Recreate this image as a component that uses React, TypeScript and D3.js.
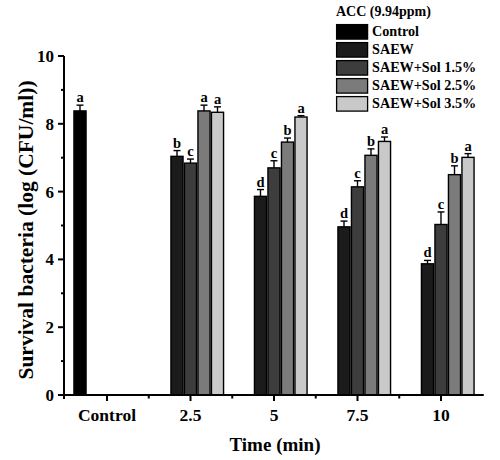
import React from 'react';
import * as d3 from 'd3';

const categories = ['Control', '2.5', '5', '7.5', '10'];
const seriesNames = ['Control', 'SAEW', 'SAEW+Sol 1.5%', 'SAEW+Sol 2.5%', 'SAEW+Sol 3.5%'];
const seriesColors = ['#000000', '#1b1b1b', '#3d3d3d', '#7b7b7b', '#c9c9c9'];

const controlValues = [8.38, null, null, null, null];
const saewValues = [null, 7.04, 5.86, 4.96, 3.87];
const sol15Values = [null, 6.84, 6.70, 6.14, 5.03];
const sol25Values = [null, 8.38, 7.46, 7.07, 6.50];
const sol35Values = [null, 8.34, 8.20, 7.48, 7.01];

const controlErrors = [0.17, null, null, null, null];
const saewErrors = [null, 0.17, 0.2, 0.17, 0.1];
const sol15Errors = [null, 0.12, 0.21, 0.18, 0.37];
const sol25Errors = [null, 0.17, 0.12, 0.19, 0.26];
const sol35Errors = [null, 0.16, 0.04, 0.13, 0.11];

const controlLetters = ['a', null, null, null, null];
const saewLetters = [null, 'b', 'd', 'd', 'd'];
const sol15Letters = [null, 'c', 'c', 'c', 'c'];
const sol25Letters = [null, 'a', 'b', 'b', 'b'];
const sol35Letters = [null, 'a', 'a', 'a', 'a'];

const yMajorTicks = [0, 2, 4, 6, 8, 10];
const yMinorTicks = [1, 3, 5, 7, 9];

const legendTitle = 'ACC (9.94ppm)';
const xTitle = 'Time (min)';
const yTitle = 'Survival bacteria (log (CFU/ml))';

const values = [controlValues, saewValues, sol15Values, sol25Values, sol35Values];
const errors = [controlErrors, saewErrors, sol15Errors, sol25Errors, sol35Errors];
const letters = [controlLetters, saewLetters, sol15Letters, sol25Letters, sol35Letters];

const FONT = '"Liberation Serif", "Times New Roman", serif';

export default function App() {
  const W = 500, H = 460;
  const x0 = 65.25, x1 = 482.75;
  const xAxisY = 395;
  const y = d3.scaleLinear().domain([0, 10]).range([xAxisY, 56]);
  const xBand = d3.scaleBand<string>().domain(categories).range([x0, x1]).paddingInner(0).paddingOuter(0);
  const bw = xBand.bandwidth();
  const inner = d3.scaleBand<string>().domain(seriesNames).range([8, bw - 8]).padding(0);
  const barW = inner.bandwidth();

  const bars: React.ReactNode[] = [];
  seriesNames.forEach((s, si) => {
    categories.forEach((c, ci) => {
      const v = values[si][ci];
      if (v == null) return;
      const bx = (xBand(c) as number) + (inner(s) as number);
      const top = y(v);
      const e = errors[si][ci] as number;
      const cx = bx + barW / 2;
      const et = y(v + e);
      bars.push(
        <g key={`${si}-${ci}`}>
          <rect x={bx + 0.7} y={top} width={barW - 1.4} height={xAxisY - top}
            fill={seriesColors[si]} stroke="#000" strokeWidth={1.4} />
          <line x1={cx} x2={cx} y1={top} y2={et} stroke="#000" strokeWidth={1.4} />
          <line x1={cx - 3.5} x2={cx + 3.5} y1={et} y2={et} stroke="#000" strokeWidth={1.4} />
          <text x={cx} y={et - 3} textAnchor="middle" fontFamily={FONT} fontWeight="bold" fontSize={14.5} fill="#000">
            {letters[si][ci]}
          </text>
        </g>
      );
    });
  });

  const xTicksMajor = categories.map((c) => (xBand(c) as number) + bw / 2);
  const xTicksMinor = categories.slice(1).map((c) => xBand(c) as number);

  return (
    <svg width={W} height={H} style={{ position: 'absolute', left: 0, top: 0, background: '#fff' }}>
      <rect x={0} y={0} width={W} height={H} fill="#fff" />
      {bars}
      {/* y axis */}
      <line x1={64} x2={64} y1={y(10)} y2={xAxisY + 4} stroke="#000" strokeWidth={2} />
      {yMajorTicks.map((t) => (
        <g key={`ym${t}`}>
          <line x1={58} x2={64} y1={y(t)} y2={y(t)} stroke="#000" strokeWidth={2} />
          <text x={54} y={y(t) + 6} textAnchor="end" fontFamily={FONT} fontWeight="bold" fontSize={17}>{t}</text>
        </g>
      ))}
      {yMinorTicks.map((t) => (
        <line key={`yn${t}`} x1={61} x2={64} y1={y(t)} y2={y(t)} stroke="#000" strokeWidth={2} />
      ))}
      {/* x axis */}
      <line x1={63} x2={x1 + 1} y1={xAxisY} y2={xAxisY} stroke="#000" strokeWidth={2} />
      {xTicksMajor.map((t, i) => (
        <g key={`xm${i}`}>
          <line x1={t} x2={t} y1={xAxisY} y2={xAxisY + 6} stroke="#000" strokeWidth={2} />
          <text x={t} y={421} textAnchor="middle" fontFamily={FONT} fontWeight="bold" fontSize={17.5}>{categories[i]}</text>
        </g>
      ))}
      {xTicksMinor.map((t, i) => (
        <line key={`xn${i}`} x1={t} x2={t} y1={xAxisY} y2={xAxisY + 3.5} stroke="#000" strokeWidth={2} />
      ))}
      <text x={275} y={451} textAnchor="middle" fontFamily={FONT} fontWeight="bold" fontSize={19}>{xTitle}</text>
      <text transform={`translate(33,230) rotate(-90)`} textAnchor="middle" fontFamily={FONT} fontWeight="bold" fontSize={21.5}>{yTitle}</text>
      {/* legend */}
      <text x={336} y={16} fontFamily={FONT} fontWeight="bold" fontSize={14}>{legendTitle}</text>
      {seriesNames.map((s, i) => (
        <g key={`lg${i}`}>
          <rect x={336.6} y={24.6 + i * 18} width={31} height={14.5} fill={seriesColors[i]} stroke="#000" strokeWidth={1.3} />
          <text x={372} y={36 + i * 18} fontFamily={FONT} fontWeight="bold" fontSize={14.2}>{s}</text>
        </g>
      ))}
    </svg>
  );
}
